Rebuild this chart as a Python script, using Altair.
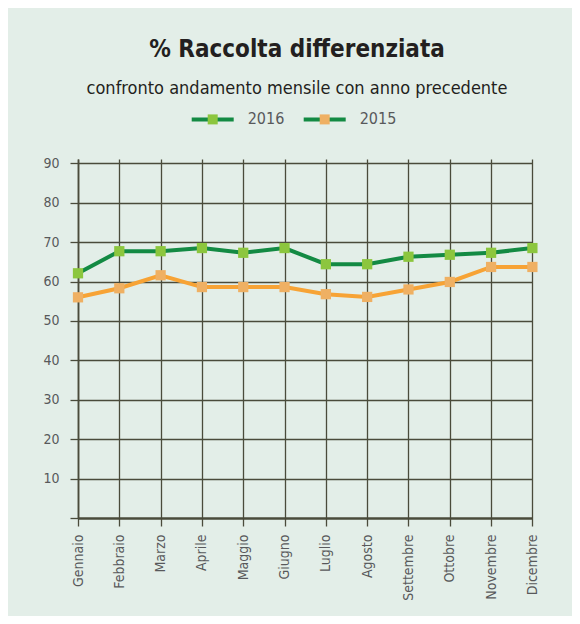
import altair as alt
import pandas as pd

months = ["Gennaio", "Febbraio", "Marzo", "Aprile", "Maggio", "Giugno",
          "Luglio", "Agosto", "Settembre", "Ottobre", "Novembre", "Dicembre"]
years = ["2016", "2015"]
values_2016 = [62.1, 67.7, 67.7, 68.5, 67.3, 68.5, 64.4, 64.4, 66.3, 66.8, 67.3, 68.5]
values_2015 = [56.0, 58.3, 61.6, 58.6, 58.6, 58.6, 56.8, 56.1, 58.0, 59.9, 63.7, 63.7]
y_ticks = [0, 10, 20, 30, 40, 50, 60, 70, 80, 90]

line_colors = ["#138a43", "#f7a335"]
marker_colors = ["#8cc63e", "#efb063"]
legend_line_color = "#138a43"
grid_color = "#4a4b3b"
label_color = "#58595b"
FONT = "DejaVu Sans Condensed, Liberation Sans Narrow, sans-serif"

rows = []
for m, v in zip(months, values_2016):
    rows.append({"month": m, "year": "2016", "value": v})
for m, v in zip(months, values_2015):
    rows.append({"month": m, "year": "2015", "value": v})
df = pd.DataFrame(rows)
legend_df = pd.DataFrame({"year": years})

x_enc = alt.X(
    "month:O", sort=months,
    scale=alt.Scale(type="point", padding=0, range=[0, 454.4]),
    axis=alt.Axis(
        title=None, labelAngle=270, labelAlign="right", labelBaseline="middle",
        labelFont=FONT, labelFontSize=14, labelColor=label_color,
        labelPadding=8, tickSize=8, tickColor=grid_color, tickWidth=1.3,
        domain=False, grid=True, gridColor=grid_color, gridWidth=1.3, gridOpacity=1,
    ),
)
y_enc = alt.Y(
    "value:Q",
    scale=alt.Scale(domain=[0, 91.1], nice=False, zero=True),
    axis=alt.Axis(
        title=None, values=y_ticks,
        labelExpr="datum.value == 0 ? '' : datum.label",
        labelFont=FONT, labelFontSize=14, labelColor=label_color,
        labelPadding=11, tickSize=8, tickColor=grid_color, tickWidth=1.3,
        domain=True, domainColor=grid_color, domainWidth=1.7,
        grid=True, gridColor=grid_color, gridOpacity=1,
        gridWidth={"condition": {"test": "datum.value === 0", "value": 2.6}, "value": 1.3},
    ),
)

lines = alt.Chart(df).mark_line(strokeWidth=4).encode(
    x=x_enc, y=y_enc,
    color=alt.Color("year:N", scale=alt.Scale(domain=years, range=line_colors), legend=None),
)
squares = alt.Chart(df).mark_square(size=105, opacity=1, filled=True).encode(
    x=x_enc, y=y_enc,
    fill=alt.Fill("year:N", scale=alt.Scale(domain=years, range=marker_colors), legend=None),
)
main = alt.layer(lines, squares)

lx = alt.X("year:N", sort=years,
           scale=alt.Scale(type="point", padding=0, domain=years, range=[134.7, 246.7]),
           axis=None)
leg_line = alt.Chart(legend_df).mark_rule(
    strokeWidth=4, color=legend_line_color, xOffset=-21, x2Offset=21
).encode(x=lx, x2=alt.X2("year:N"), y=alt.value(-39.6))
leg_sq = alt.Chart(legend_df).mark_square(size=100, opacity=1, filled=True).encode(
    x=lx, y=alt.value(-39.6),
    fill=alt.Fill("year:N", scale=alt.Scale(domain=years, range=marker_colors), legend=None),
)
leg_txt = alt.Chart(legend_df).mark_text(
    align="left", baseline="middle", dx=35, font=FONT, fontSize=16, color=label_color
).encode(x=lx, y=alt.value(-39.6), text="year:N")
legend = alt.layer(leg_line, leg_sq, leg_txt)

chart = alt.layer(main, legend).resolve_scale(
    x="independent"
).properties(
    width=462, height=359,
    padding={"left": 70, "top": 151, "right": 32, "bottom": 98},
    autosize=alt.AutoSizeParams(type="none"),
    background="#e3eee8",
    title=alt.TitleParams(
        text="% Raccolta differenziata",
        subtitle="confronto andamento mensile con anno precedente",
        font=FONT, fontSize=24, fontWeight="bold", color="#231f20",
        subtitleFont=FONT, subtitleFontSize=18, subtitleColor="#231f20",
        subtitlePadding=18, anchor="middle", offset=13, dx=-12,
    ),
).configure_view(stroke=None)

chart.save("out.html", embed_options={"renderer": "svg", "actions": False})
